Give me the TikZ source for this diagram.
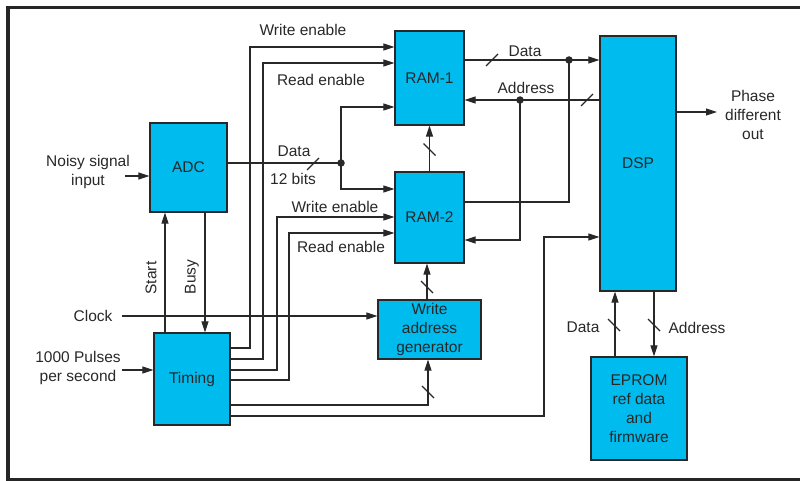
\documentclass[tikz,border=0pt]{standalone}
\usepackage{fontspec}
\setmainfont{Liberation Sans}
\usetikzlibrary{arrows.meta}
\definecolor{chipblue}{RGB}{0,187,238}
\definecolor{inkgray}{RGB}{40,40,40}

\newcommand{\busmarkh}[1]{\draw[wire] (#1) ++(-6,6) -- ++(12,-12);}
\newcommand{\busmarkv}[1]{\draw[wire] (#1) ++(-6,-6) -- ++(12,12);}

\begin{document}
\begin{tikzpicture}[x=1pt, y=-1pt, font=\fontsize{15.5}{19}\selectfont, text=inkgray,
  block/.style={draw=inkgray, line width=1.3pt, fill=chipblue, inner sep=0pt, align=center},
  lab/.style={align=center, inner sep=0pt},
  wire/.style={draw=inkgray, line width=1.1pt},
  arr/.style={wire, -{Triangle[length=11pt,width=7pt]}},
  joint/.style={circle, fill=inkgray, inner sep=0pt, minimum size=7.5pt}]
  \useasboundingbox (0,0) rectangle (800,481);
  \draw[black!85, line width=3.5pt] (803,7.5) -- (8,7.5) -- (8,479.5) -- (803,479.5);

  % blocks
  \node[block, minimum width=77pt, minimum height=89pt] (adc) at (188.5,167.5) {ADC};
  \node[block, minimum width=69pt, minimum height=94pt] (ram1) at (429.5,78) {RAM-1};
  \node[block, minimum width=69pt, minimum height=91pt] (ram2) at (429.5,217.5) {RAM-2};
  \node[block, minimum width=76pt, minimum height=255pt] (dsp) at (638,163.5) {DSP};
  \node[block, minimum width=103pt, minimum height=59pt] (wag) at (429.5,329.5) {Write\\address\\generator};
  \node[block, minimum width=76pt, minimum height=92pt] (timing) at (192,379) {Timing};
  \node[block, minimum width=96pt, minimum height=103pt] (eprom) at (639,408.5) {EPROM\\ref data\\and\\firmware};

  % outside signals
  \node[lab] (noisy) at (88,172) {Noisy signal\\input};
  \node[lab] (clock) at (93,316) {Clock};
  \node[lab] (pulses) at (78,368) {1000 Pulses\\per second};
  \node[lab] (phase) at (753,115) {Phase\\different\\out};
  \coordinate (noisyin) at (125,176);
  \coordinate (clockin) at (122,316);
  \coordinate (pulsein) at (122,370);
  \coordinate (phaseout) at (717,112);
  \draw[arr] (noisyin) -- (adc.west |- noisyin);
  \draw[arr] (clockin) -- (wag.west |- clockin);
  \draw[arr] (pulsein) -- (timing.west |- pulsein);
  \draw[arr] (dsp.east |- phaseout) -- (phaseout);

  % ADC and timing handshake
  \draw[arr] (timing.north -| 165,0) -- (adc.south -| 165,0);
  \draw[arr] (adc.south -| 205,0) -- (timing.north -| 205,0);
  \node[lab, rotate=90] (start) at (151,278) {Start};
  \node[lab, rotate=90] (busy) at (192,277) {Busy};

  % ADC data to both RAMs
  \coordinate (split) at (341,163);
  \draw[wire] (adc.east |- split) -- (split);
  \draw[arr] (split) |- (ram1.west |- 0,107);
  \draw[arr] (split) |- (ram2.west |- 0,189);
  \busmarkh{313,164}
  \node[lab] (adcdata) at (294,151) {Data};
  \node[lab] (adcbits) at (293,179) {12 bits};

  % enables from timing
  \draw[arr] (timing.east |- 0,348) -| (250,47) -- (ram1.west |- 0,47);
  \draw[arr] (timing.east |- 0,359) -| (263,63) -- (ram1.west |- 0,63);
  \draw[arr] (timing.east |- 0,370) -| (277,217) -- (ram2.west |- 0,217);
  \draw[arr] (timing.east |- 0,380) -| (289,233) -- (ram2.west |- 0,233);
  \node[lab] (we1) at (303,30) {Write enable};
  \node[lab] (re1) at (321,80) {Read enable};
  \node[lab] (we2) at (335,207) {Write enable};
  \node[lab] (re2) at (341,247) {Read enable};

  % timing to address generator and DSP
  \draw[arr] (timing.east |- 0,405) -| (wag.south -| 428,0);
  \draw[arr] (timing.east |- 0,416) -| (544,237) -- (dsp.west |- 0,237);
  \busmarkv{428,392}

  % RAM chain
  \draw[arr] (ram2.north) -- (ram1.south);
  \draw[arr] (wag.north -| 427,0) -- (ram2.south -| 427,0);
  \busmarkv{429.5,149.5}
  \busmarkv{427,287}

  % RAM data and address buses
  \coordinate (dtap) at (569,60);
  \coordinate (atap) at (520,100);
  \draw[arr] (ram1.east |- dtap) -- (dsp.west |- dtap);
  \draw[wire] (ram2.east |- 0,202) -| (dtap);
  \draw[arr] (dsp.west |- atap) -- (ram1.east |- atap);
  \draw[arr] (atap) |- (ram2.east |- 0,240);
  \busmarkh{492,60}
  \busmarkh{587,100}
  \node[lab] (ramdata) at (525,51) {Data};
  \node[lab] (ramaddr) at (526,88) {Address};

  % DSP and EPROM
  \draw[arr] (eprom.north -| 615,0) -- (dsp.south -| 615,0);
  \draw[arr] (dsp.south -| 654,0) -- (eprom.north -| 654,0);
  \busmarkv{614,325}
  \busmarkv{654,325}
  \node[lab] (romdata) at (583,327) {Data};
  \node[lab] (romaddr) at (697,328) {Address};

  \node[joint] at (split) {};
  \node[joint] at (dtap) {};
  \node[joint] at (atap) {};
\end{tikzpicture}
\end{document}
